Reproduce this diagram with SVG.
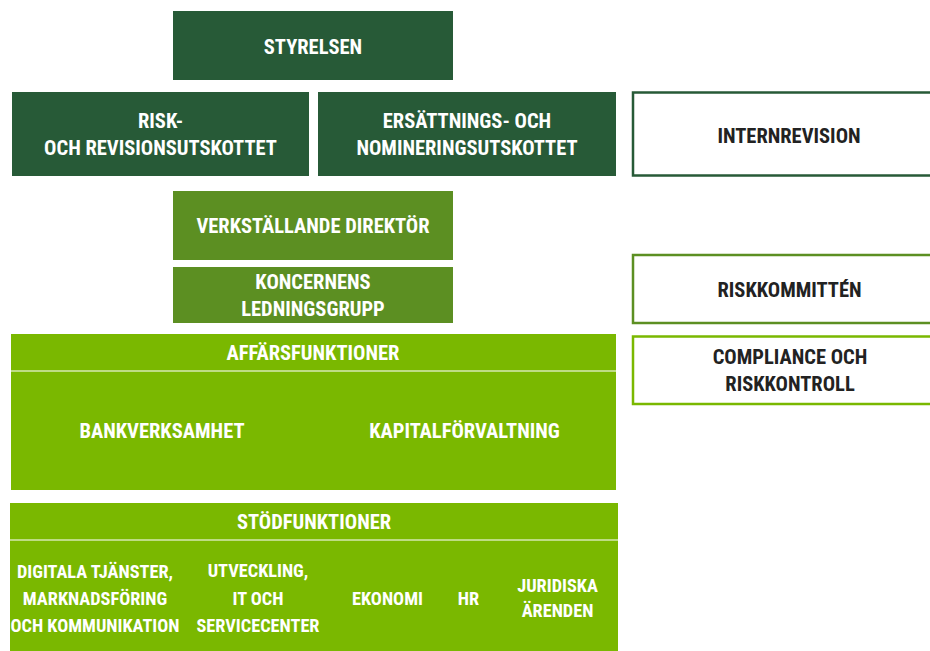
<svg xmlns="http://www.w3.org/2000/svg" width="930" height="651" viewBox="0 0 930 651">
  <style>
    .board { fill: #275a37; }
    .mgmt { fill: #5c8f22; }
    .func { fill: #7ab800; }
    .t { font-family: "Liberation Sans Narrow", "Roboto Condensed", "DejaVu Sans Condensed", "Liberation Sans", sans-serif; font-stretch: condensed; font-weight: bold; text-anchor: middle; font-size: 20.5px; }
    .w { fill: #ffffff; }
    .d { fill: #222222; }
    .s { font-size: 18.3px; }
    .sep { stroke: #d6e8b0; stroke-width: 1.5; }
  </style>

  <!-- Board and committees -->
  <g id="styrelsen">
    <rect class="board" x="173" y="11" width="280" height="69"/>
    <text class="t w" x="313" y="54">STYRELSEN</text>
  </g>
  <g id="risk-revision">
    <rect class="board" x="12" y="92" width="297" height="84"/>
    <text class="t w" x="160.5" y="128">RISK-</text>
    <text class="t w" x="160.5" y="155">OCH REVISIONSUTSKOTTET</text>
  </g>
  <g id="ersattning-nominering">
    <rect class="board" x="318" y="92" width="298" height="84"/>
    <text class="t w" x="467" y="128">ERSÄTTNINGS- OCH</text>
    <text class="t w" x="467" y="155">NOMINERINGSUTSKOTTET</text>
  </g>

  <!-- Control functions -->
  <g id="internrevision">
    <rect x="633" y="92.5" width="310" height="83" fill="#ffffff" stroke="#275a37" stroke-width="2.5"/>
    <text class="t d" x="789" y="143">INTERNREVISION</text>
  </g>
  <g id="riskkommitten">
    <rect x="633" y="255" width="310" height="68" fill="#ffffff" stroke="#5c8f22" stroke-width="2.5"/>
    <text class="t d" x="789.5" y="297">RISKKOMMITTÉN</text>
  </g>
  <g id="compliance">
    <rect x="633" y="336.5" width="310" height="67.5" fill="#ffffff" stroke="#7ab800" stroke-width="2.5"/>
    <text class="t d" x="790" y="364">COMPLIANCE OCH</text>
    <text class="t d" x="790" y="391">RISKKONTROLL</text>
  </g>

  <!-- Management -->
  <g id="vd">
    <rect class="mgmt" x="173" y="191" width="280" height="69"/>
    <text class="t w" x="313" y="233">VERKSTÄLLANDE DIREKTÖR</text>
  </g>
  <g id="ledningsgrupp">
    <rect class="mgmt" x="173" y="267" width="280" height="56"/>
    <text class="t w" x="313" y="289">KONCERNENS</text>
    <text class="t w" x="313" y="316">LEDNINGSGRUPP</text>
  </g>

  <!-- Business functions -->
  <g id="affarsfunktioner">
    <rect class="func" x="11" y="334" width="605" height="156"/>
    <line class="sep" x1="11" y1="371" x2="616" y2="371"/>
    <text class="t w" x="313" y="360">AFFÄRSFUNKTIONER</text>
    <text class="t w" x="162" y="438">BANKVERKSAMHET</text>
    <text class="t w" x="464.5" y="438">KAPITALFÖRVALTNING</text>
  </g>

  <!-- Support functions -->
  <g id="stodfunktioner">
    <rect class="func" x="10" y="503" width="608" height="150"/>
    <line class="sep" x1="10" y1="540" x2="618" y2="540"/>
    <text class="t w" x="314" y="529">STÖDFUNKTIONER</text>
    <text class="t w s" x="95" y="578">DIGITALA TJÄNSTER,</text>
    <text class="t w s" x="95" y="605">MARKNADSFÖRING</text>
    <text class="t w s" x="95" y="632">OCH KOMMUNIKATION</text>
    <text class="t w s" x="258" y="577">UTVECKLING,</text>
    <text class="t w s" x="258" y="605">IT OCH</text>
    <text class="t w s" x="258" y="632">SERVICECENTER</text>
    <text class="t w s" x="387.5" y="605">EKONOMI</text>
    <text class="t w s" x="468.5" y="605">HR</text>
    <text class="t w s" x="557.5" y="592">JURIDISKA</text>
    <text class="t w s" x="557.5" y="617">ÄRENDEN</text>
  </g>

  <!-- No connectors are drawn in this chart -->
  <g id="connectors"/>
</svg>
